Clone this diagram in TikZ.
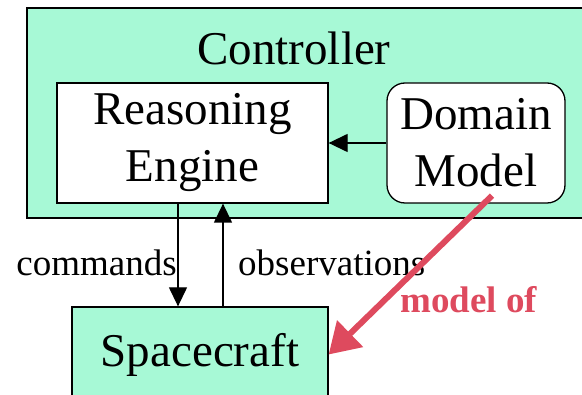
\documentclass[tikz,border=0pt]{standalone}
\usepackage{fontspec}
\setmainfont{Liberation Serif}
\usetikzlibrary{arrows.meta}
\definecolor{mint}{HTML}{A7F9D6}
\definecolor{modelred}{HTML}{DE4A5E}
\begin{document}
\begin{tikzpicture}[x=1pt,y=-1pt,
  box/.style={draw=black, line width=1.3pt, inner sep=0pt, align=center, font=\fontsize{47}{57}\selectfont},
  lbl/.style={font=\fontsize{37}{44}\selectfont, inner sep=0pt},
  flow/.style={line width=1.3pt, -{Triangle[length=19pt,width=18pt]}},
]
\useasboundingbox (0,0) rectangle (582,395);
\node[box, fill=mint, minimum width=580pt, minimum height=210pt] (ctrl) at (317,113) {};
\node[box, draw=none, anchor=base] (title) at (294,65) {Controller};
\node[box, fill=white, minimum width=271pt, minimum height=120pt] (re) at (192.5,143) {Reasoning\\Engine};
\node[box, fill=white, rounded corners=18pt, minimum width=178pt, minimum height=120pt] (dm) at (476,143) {Domain\\Model};
\node[box, fill=mint, minimum width=256pt, minimum height=95pt] (sc) at (200,354.5) {Spacecraft};
\draw[flow] (dm.west) -- (re.east);
\draw[flow] ([xshift=-14.5pt]re.south) -- ([xshift=-22pt]sc.north);
\draw[flow] ([xshift=23pt]sc.north) -- ([xshift=30.5pt]re.south);
\node[lbl, anchor=base east] (cmd) at (177,276) {commands};
\node[lbl, anchor=base west] (obs) at (238,276) {observations};
\draw[line width=6pt, modelred, -{Triangle[length=30pt,width=36pt]}] ([xshift=16pt,yshift=8pt]dm.south) -- (sc.east);
\node[lbl, anchor=base west, text=modelred, font=\fontsize{37}{44}\selectfont\bfseries] (modelof) at (400,313) {model of};
\end{tikzpicture}
\end{document}
